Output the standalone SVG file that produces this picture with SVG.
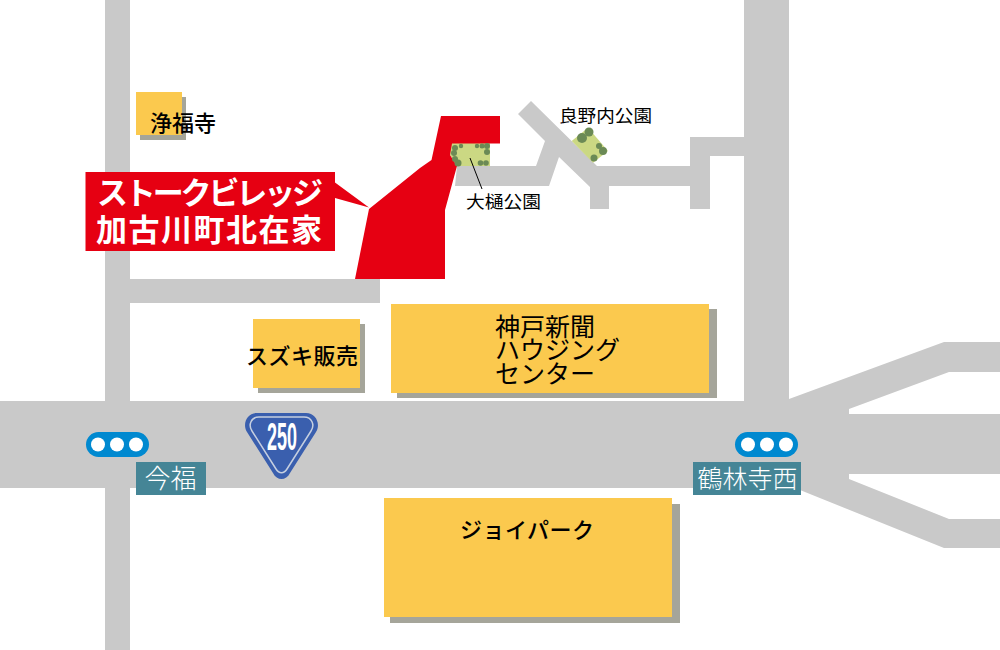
<svg xmlns="http://www.w3.org/2000/svg" width="1000" height="650" viewBox="0 0 1000 650">
<style>
text{font-family:"Noto Sans CJK JP","Noto Sans",sans-serif}
.road{fill:#c9c9c9}
.b{fill:#fbc94e}
.s{fill:#a5a59a}
.k{fill:#000;font-size:22px;font-weight:500}
.p{fill:#000;font-size:17px}
.w{fill:#000;font-size:25px}
.sig{fill:#0089d0}
.t{fill:#6b8a55}
.pk{fill:#cbd883}
.lab{fill:#458596}
.big{fill:#fff;font-size:31px;font-weight:700}
</style>
<rect width="1000" height="650" fill="#fff"/>
<g id="roads">
<rect class="road" x="105" y="0" width="25" height="650"/>
<rect class="road" x="744" y="0" width="45" height="410"/>
<rect class="road" x="105" y="279" width="275" height="24"/>
<rect class="road" x="0" y="401" width="800" height="87"/>
<polygon class="road" points="789,399 944,342 1000,342 1000,372 949,372 849,409 849,414 1000,414 1000,474 849,474 849,479 949,519 1000,519 1000,548 944,548 800,490 780,490 780,399"/>
<polygon class="road" points="518,114 531,101 597,166 690,166 690,137 744,137 744,156 710,156 710,209 690,209 690,186 609,186 609,209 590,209 590,187 559,157 549,186 455,186 457,166 536,166 545,141"/>
</g>
<g id="site">
<polygon class="pk" points="450,143 490,143 490,166 457,166 450,155"/>
<polygon fill="#e60012" points="441,116 500,116 500,143.500 452,143.500 450,155 457,166 445,210 445,279 355,279 369,209 420,168 431.500,160"/>
<g class="t">
<circle cx="455" cy="148" r="3"/><circle cx="461" cy="146" r="2.200"/><circle cx="477" cy="146" r="2.200"/><circle cx="482" cy="146" r="2.500"/><circle cx="487" cy="146" r="3"/><circle cx="487" cy="152" r="3"/><circle cx="454" cy="153" r="3"/><circle cx="455" cy="159" r="3"/><circle cx="458" cy="163" r="3.500"/><circle cx="480.500" cy="163" r="2.800"/><circle cx="486" cy="163" r="2.800"/>
</g>
<line x1="470" y1="158" x2="482" y2="189" stroke="#000" stroke-width="1"/>
<text class="p" x="466" y="208" textLength="75" lengthAdjust="spacingAndGlyphs">大樋公園</text>
<polygon fill="#e60012" points="85.500,172 335,172 335,182.500 369,207.500 335,198 335,251 85.500,251"/>
<text class="big" x="97" y="204" textLength="226" lengthAdjust="spacing">ストークビレッジ</text>
<text class="big" x="96" y="241" textLength="226" lengthAdjust="spacing">加古川町北在家</text>
</g>
<g id="park-yoshino">
<polygon class="pk" points="571.700,141 588,127.700 608,151 593,162.700"/>
<g class="t"><circle cx="582" cy="138" r="5"/><circle cx="589" cy="132" r="4.500"/><circle cx="599" cy="146" r="3"/><circle cx="603" cy="151" r="4"/><circle cx="594" cy="158" r="3.500"/></g>
<text class="p" x="559" y="122" textLength="93" lengthAdjust="spacingAndGlyphs">良野内公園</text>
</g>
<g id="jofukuji">
<rect class="s" x="140" y="97" width="46" height="43"/><rect class="b" x="136" y="92" width="46" height="43"/>
<text class="k" x="150" y="131">浄福寺</text>
</g>
<g id="suzuki">
<rect class="s" x="258" y="324" width="107" height="69"/><rect class="b" x="253" y="319" width="107" height="69"/>
<text class="k" x="246" y="364" textLength="112" lengthAdjust="spacing">スズキ販売</text>
</g>
<g id="kobe">
<rect class="s" x="397" y="309" width="320" height="89"/><rect class="b" x="391" y="304" width="318" height="89"/>
<text class="w"><tspan x="495" y="336">神戸新聞</tspan><tspan x="495" y="359">ハウジング</tspan><tspan x="495" y="383">センター</tspan></text>
</g>
<g id="joypark">
<rect class="s" x="390" y="504" width="290" height="119"/><rect class="b" x="384" y="498" width="288" height="119"/>
<text class="k" x="460" y="538" textLength="134" lengthAdjust="spacing">ジョイパーク</text>
</g>
<g id="shield">
<path fill="#3a5fae" d="M257,413H306C316,413 321,424 316,432L290,473C286,481 277,481 273,473L247,432C242,424 247,413 257,413Z"/>
<path fill="none" stroke="#c5cfe0" stroke-width="1.500" d="M259,417H304C312,417 315,425 311,431L287,469C284,474 279,474 276,469L252,431C248,425 251,417 259,417Z"/>
<text x="267" y="450" fill="#fff" style="font-family:'Liberation Sans',sans-serif;font-size:38px;font-weight:700" textLength="30" lengthAdjust="spacingAndGlyphs">250</text>
</g>
<g id="signal-imafuku">
<rect class="sig" x="86" y="432" width="63" height="25" rx="12.500"/>
<circle cx="98" cy="444.500" r="7" fill="#fff"/><circle cx="117" cy="444.500" r="7" fill="#fff"/><circle cx="136" cy="444.500" r="7" fill="#fff"/>
<rect class="lab" x="136" y="462" width="70" height="33"/>
<text x="170.500" y="488" fill="#fff" text-anchor="middle" style="font-size:26px;font-weight:300">今福</text>
</g>
<g id="signal-kakurinji">
<rect class="sig" x="735" y="432" width="63" height="25" rx="12.500"/>
<circle cx="748" cy="444.500" r="7" fill="#fff"/><circle cx="767" cy="444.500" r="7" fill="#fff"/><circle cx="786" cy="444.500" r="7" fill="#fff"/>
<rect class="lab" x="693" y="462" width="108" height="33"/>
<text x="747.500" y="488" fill="#fff" text-anchor="middle" style="font-size:25px;font-weight:300">鶴林寺西</text>
</g>
</svg>
